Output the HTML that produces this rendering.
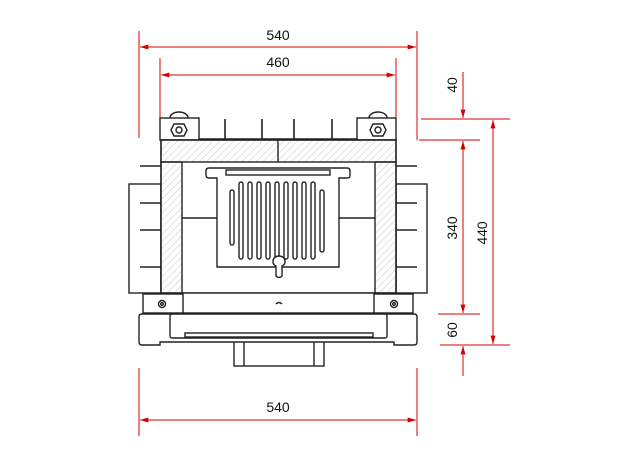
<!DOCTYPE html>
<html><head><style>html,body{margin:0;padding:0;background:#fff}svg{display:block}</style></head><body>
<svg width="624" height="460" viewBox="0 0 624 460" xmlns="http://www.w3.org/2000/svg" font-family="Liberation Sans, sans-serif">
<defs>
<pattern id="h" width="5" height="5" patternUnits="userSpaceOnUse" patternTransform="rotate(45)"><line x1="0" y1="0" x2="0" y2="5" stroke="#c8c8c8" stroke-width="1"/></pattern>
<marker id="a" viewBox="0 0 10 6" refX="10" refY="3" markerWidth="14" markerHeight="5" markerUnits="userSpaceOnUse" orient="auto-start-reverse"><path d="M0,0L10,3L0,6z" fill="#d40000"/></marker>
</defs>
<g stroke="#d40000" stroke-width="1" fill="none">
<line x1="139" y1="31" x2="139" y2="138"/><line x1="417" y1="31" x2="417" y2="140"/>
<line x1="160" y1="58" x2="160" y2="118"/><line x1="396" y1="58" x2="396" y2="118"/>
<line x1="140" y1="47" x2="416" y2="47" marker-start="url(#a)" marker-end="url(#a)"/>
<line x1="161" y1="75" x2="395" y2="75" marker-start="url(#a)" marker-end="url(#a)"/>
<line x1="139" y1="368" x2="139" y2="436"/><line x1="417" y1="368" x2="417" y2="436"/>
<line x1="140" y1="420" x2="416" y2="420" marker-start="url(#a)" marker-end="url(#a)"/>
<line x1="421" y1="119" x2="510" y2="119"/><line x1="419" y1="140" x2="480" y2="140"/>
<line x1="438" y1="314" x2="480" y2="314"/><line x1="440" y1="345" x2="510" y2="345"/>
<line x1="463" y1="72" x2="463" y2="118" marker-end="url(#a)"/>
<line x1="463" y1="141" x2="463" y2="313" marker-start="url(#a)" marker-end="url(#a)"/>
<line x1="463" y1="346" x2="463" y2="376" marker-start="url(#a)"/>
<line x1="493" y1="120" x2="493" y2="344" marker-start="url(#a)" marker-end="url(#a)"/>
</g>
<g font-size="14" fill="#111" text-anchor="middle">
<text x="278" y="40">540</text><text x="278" y="67">460</text><text x="278" y="412">540</text>
<text transform="translate(457,85) rotate(-90)">40</text>
<text transform="translate(457,228) rotate(-90)">340</text>
<text transform="translate(487,233) rotate(-90)">440</text>
<text transform="translate(457,330) rotate(-90)">60</text>
</g>
<g stroke="#222" stroke-width="1.4" fill="#fff">
<rect x="129" y="184" width="32" height="109"/><rect x="396" y="184" width="31" height="109"/>
<g stroke-width="1.6"><line x1="140" y1="166" x2="161" y2="166"/><line x1="140" y1="203" x2="161" y2="203"/><line x1="140" y1="230" x2="161" y2="230"/><line x1="140" y1="267" x2="161" y2="267"/>
<line x1="396" y1="166" x2="417" y2="166"/><line x1="396" y1="203" x2="417" y2="203"/><line x1="396" y1="230" x2="417" y2="230"/><line x1="396" y1="267" x2="417" y2="267"/>
<line x1="225" y1="119" x2="225" y2="140"/><line x1="262" y1="119" x2="262" y2="140"/><line x1="294" y1="119" x2="294" y2="140"/><line x1="332" y1="119" x2="332" y2="140"/></g>
<line x1="199" y1="139" x2="357" y2="139"/>
<path d="M170,118 a9,6 0 0 1 18,0" /><path d="M369,118 a9,6 0 0 1 18,0"/>
<rect x="160" y="118" width="39" height="22"/><rect x="357" y="118" width="39" height="22"/>
<polygon points="174,124 184,124 187,130 184,136 174,136 171,130"/><circle cx="179" cy="130" r="3"/>
<polygon points="373,124 383,124 386,130 383,136 373,136 370,130"/><circle cx="378" cy="130" r="3"/>
<rect x="161" y="140" width="235" height="153"/>
<rect x="161" y="140" width="235" height="22" fill="url(#h)"/>
<line x1="278" y1="140" x2="278" y2="162"/>
<rect x="161" y="162" width="21" height="131" fill="url(#h)"/>
<rect x="375" y="162" width="21" height="131" fill="url(#h)"/>
<line x1="182" y1="218" x2="217" y2="218"/><line x1="339" y1="218" x2="375" y2="218"/>
<path d="M209,168 H347 Q350,168 350,171 V176 Q350,178 347,178 H339 V267 H217 V178 H209 Q206,178 206,175 V171 Q206,168 209,168 Z"/>
<rect x="226" y="170" width="104" height="5"/>
<g fill="#fff">
<rect x="230" y="190" width="4" height="55" rx="2"/>
<rect x="239" y="182" width="4" height="77" rx="2"/><rect x="248" y="182" width="4" height="77" rx="2"/><rect x="257" y="182" width="4" height="77" rx="2"/><rect x="266" y="182" width="4" height="77" rx="2"/><rect x="275" y="182" width="4" height="77" rx="2"/><rect x="284" y="182" width="4" height="77" rx="2"/><rect x="293" y="182" width="4" height="77" rx="2"/><rect x="302" y="182" width="4" height="77" rx="2"/><rect x="311" y="182" width="4" height="77" rx="2"/>
<rect x="320" y="190" width="4" height="62" rx="2"/>
</g>
<path d="M276,276 V266 a5,5 0 0 1 -3,-5 a6,5 0 0 1 12,0 a5,5 0 0 1 -3,5 V276 Q279,279 276,276 Z"/>
<rect x="182" y="293" width="193" height="20"/>
<path d="M276,304 q3,-3 6,0" fill="none"/>
<rect x="143" y="294" width="40" height="19"/><circle cx="162" cy="304" r="3.5"/><circle cx="162" cy="304" r="1.3"/>
<rect x="374" y="294" width="39" height="19"/><circle cx="394" cy="304" r="3.5"/><circle cx="394" cy="304" r="1.3"/>
<rect x="234" y="338" width="90" height="28"/><line x1="244" y1="338" x2="244" y2="366"/><line x1="314" y1="338" x2="314" y2="366"/>
<path d="M142,314 H414 Q417,314 417,317 V342 Q417,345 414,345 H394 V342 H160 V345 H142 Q139,345 139,342 V317 Q139,314 142,314 Z"/>
<rect x="170" y="314" width="217" height="24" rx="2"/>
<rect x="185" y="333" width="188" height="4"/>
</g>
</svg>
</body></html>
